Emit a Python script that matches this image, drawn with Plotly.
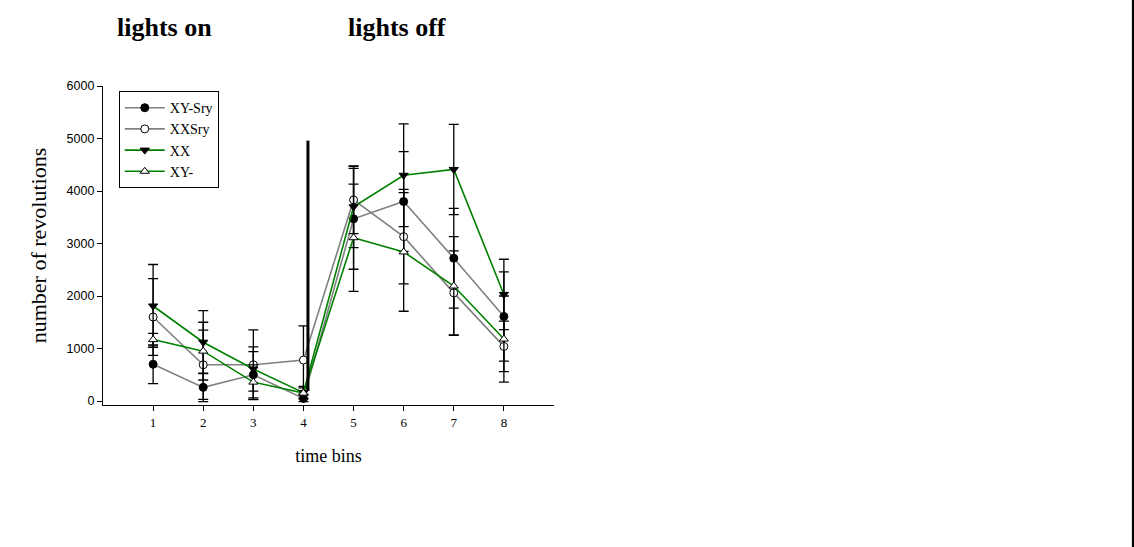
import plotly.graph_objects as go

# Wheel-running activity per time bin, mean ± error for each genotype
time_bins = [1, 2, 3, 4, 5, 6, 7, 8]

xy_sry = [700, 260, 500, 50, 3470, 3800, 2720, 1610]
xy_sry_err = [370, 270, 440, 60, 960, 950, 950, 850]

xxsry = [1600, 690, 690, 780, 3830, 3130, 2060, 1040]
xxsry_err = [730, 660, 665, 650, 640, 900, 800, 480]

xx = [1810, 1120, 610, 160, 3700, 4300, 4410, 2030]
xx_err = [790, 600, 420, 120, 780, 980, 860, 670]

xy_minus = [1170, 950, 360, 150, 3110, 2840, 2190, 1180]
xy_minus_err = [120, 550, 330, 100, 1020, 1130, 940, 820]

y_ticks = [0, 1000, 2000, 3000, 4000, 5000, 6000]

# light/dark transition marker
transition_x = 4.09
transition_span = [190, 4960]

GRAY = "#808080"
GREEN = "#008000"
SERIF = "Times New Roman, Liberation Serif, serif"
SANS = "Arial, Liberation Sans, sans-serif"

series = [
    ("XY-Sry", xy_sry, xy_sry_err, GRAY, "circle", "black"),
    ("XXSry", xxsry, xxsry_err, GRAY, "circle", "white"),
    ("XX", xx, xx_err, GREEN, "triangle-down", "black"),
    ("XY-", xy_minus, xy_minus_err, GREEN, "triangle-up", "white"),
]

fig = go.Figure()
for name, vals, errs, color, symbol, fill in series:
    fig.add_trace(go.Scatter(
        x=time_bins, y=vals, name=name, mode="lines+markers",
        line=dict(color=color, width=1.6),
        marker=dict(symbol=symbol, size=8, color=fill,
                    line=dict(color="black", width=1)),
        error_y=dict(type="data", array=errs, visible=True,
                     color="black", thickness=1.3, width=5),
    ))

fig.add_shape(type="line", xref="x", yref="y",
              x0=transition_x, x1=transition_x,
              y0=transition_span[0], y1=transition_span[1],
              line=dict(color="black", width=3))

# page border on the right edge
fig.add_shape(type="line", xref="paper", yref="paper",
              x0=2.2838, x1=2.2838, y0=-0.45, y1=1.3,
              line=dict(color="black", width=2.2))

for label, xpos in [("lights on", 0.137), ("lights off", 0.652)]:
    fig.add_annotation(text=f"<b>{label}</b>", xref="paper", yref="paper",
                       x=xpos, y=1.182, xanchor="center", yanchor="middle",
                       showarrow=False,
                       font=dict(family=SERIF, size=26, color="black"))

fig.update_layout(
    width=1134, height=547,
    margin=dict(l=103, r=580, t=86, b=142),
    paper_bgcolor="white", plot_bgcolor="white",
    showlegend=True,
    legend=dict(x=0.035, y=0.984, xanchor="left", yanchor="top",
                bordercolor="black", borderwidth=1, bgcolor="white",
                font=dict(family=SERIF, size=14, color="black"),
                tracegroupgap=0, itemwidth=40),
    xaxis=dict(range=[0, 9], tickvals=time_bins, showline=True,
               linecolor="black", linewidth=1.3, ticks="outside",
               ticklen=5, tickcolor="black", showgrid=False, zeroline=False,
               tickfont=dict(family=SERIF, size=13, color="black"),
               title=dict(text="time bins", standoff=20,
                          font=dict(family=SERIF, size=18, color="black"))),
    yaxis=dict(range=[-76, 6000], tickvals=y_ticks, showline=True,
               linecolor="black", linewidth=1.3, ticks="outside",
               ticklen=5, tickcolor="black", showgrid=False, zeroline=False,
               tickfont=dict(family=SANS, size=12.5, color="black"),
               title=dict(text="number of revolutions", standoff=13,
                          font=dict(family=SERIF, size=22, color="black"))),
)

fig.write_html("out.html")
